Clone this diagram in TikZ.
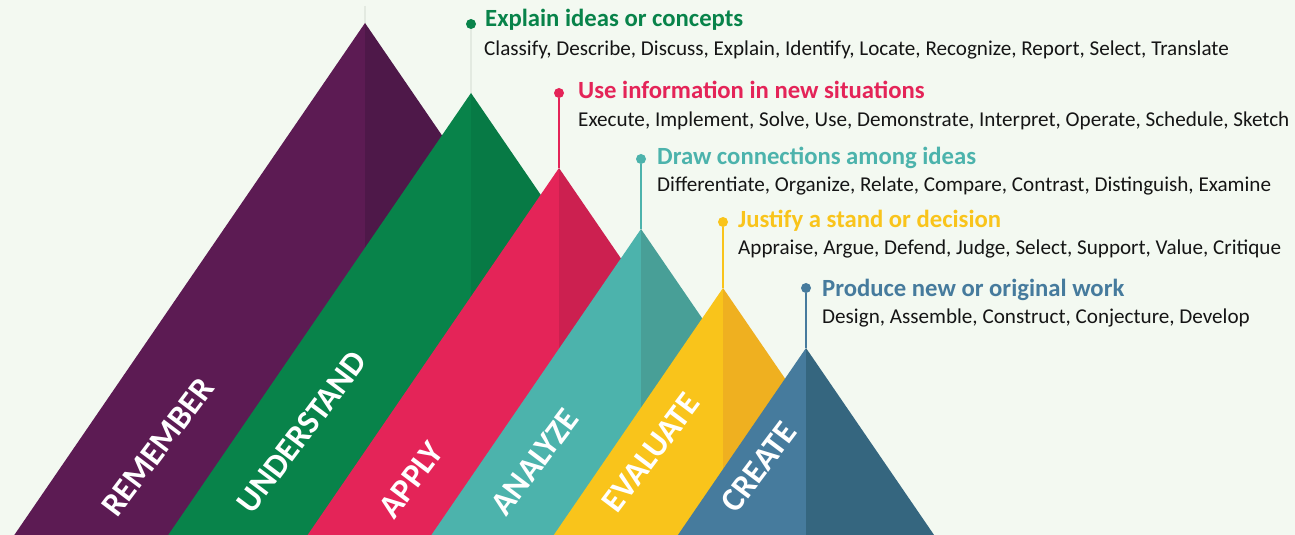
\documentclass[tikz,border=0pt]{standalone}
\usepackage{fontspec}
\setmainfont{Carlito}
\definecolor{bg}{HTML}{F3F9F1}
\definecolor{purL}{HTML}{5C1B53}
\definecolor{purR}{HTML}{4E1849}
\definecolor{grnL}{HTML}{08834A}
\definecolor{grnR}{HTML}{077A45}
\definecolor{redL}{HTML}{E42458}
\definecolor{redR}{HTML}{CC2050}
\definecolor{teaL}{HTML}{4CB3AC}
\definecolor{teaR}{HTML}{489F97}
\definecolor{yelL}{HTML}{F9C41B}
\definecolor{yelR}{HTML}{EFB020}
\definecolor{bluL}{HTML}{467B9D}
\definecolor{bluR}{HTML}{35667F}
\definecolor{faint}{HTML}{E3EAE1}
\definecolor{desc}{HTML}{151515}
\tikzset{
  title/.style={anchor=base west, inner sep=0pt, font=\fontsize{24.8}{28}\selectfont\bfseries},
  desctext/.style={anchor=base west, inner sep=0pt, font=\fontsize{21.2}{24}\selectfont, text=desc},
  dotmark/.style={circle, inner sep=0pt, minimum size=10bp},
  level/.style={anchor=center, inner sep=0pt, rotate=53, text=white, font=\fontsize{33.5}{36}\selectfont\bfseries},
  stem/.style={line width=2bp}
}
\newcommand{\mytri}[4]{% apex x, apex y, left color, right color
  \pgfmathsetmacro{\hw}{(535-#2)/1.46}
  \fill[#3] (#1,#2) -- (#1-\hw,535) -- (#1,535) -- cycle;
  \fill[#4] (#1,#2) -- (#1+\hw,535) -- (#1,535) -- cycle;
}
\begin{document}
\begin{tikzpicture}[x=1bp,y=-1bp]
\fill[bg] (0,0) rectangle (1295,535);
\useasboundingbox (0,0) rectangle (1295,535);

% coordinates of apexes
\coordinate (a1) at (365,23);
\coordinate (a2) at (471,93);
\coordinate (a3) at (559,168);
\coordinate (a4) at (641,229);
\coordinate (a5) at (723,288);
\coordinate (a6) at (806,348);
\coordinate (t1) at (365,6);

% dots
\node[dotmark, fill=grnL] (d2) at (471,24) {};
\node[dotmark, fill=redL] (d3) at (559,93) {};
\node[dotmark, fill=teaL] (d4) at (641,159) {};
\node[dotmark, fill=yelL] (d5) at (723,222) {};
\node[dotmark, fill=bluL] (d6) at (806,288) {};

% stems
\draw[faint, line width=1.2bp] (t1) -- (a1);
\draw[faint, line width=1.2bp] (d2) -- (a2);
\draw[stem, redL] (d3) -- (a3);
\draw[stem, teaL] (d4) -- (a4);
\draw[stem, yelL] (d5) -- (a5);
\draw[stem, bluL] (d6) -- (a6);

% triangles
\mytri{365}{23}{purL}{purR}
\mytri{471}{93}{grnL}{grnR}
\mytri{559}{168}{redL}{redR}
\mytri{641}{229}{teaL}{teaR}
\mytri{723}{288}{yelL}{yelR}
\mytri{806}{348}{bluL}{bluR}

% level labels
\node[level] (l1) at (158,447) {REMEMBER};
\node[level] (l2) at (302,432) {UNDERSTAND};
\node[level] (l3) at (411,480) {APPLY};
\node[level] (l4) at (535,462) {ANALYZE};
\node[level] (l5) at (651,453) {EVALUATE};
\node[level] (l6) at (759,467) {CREATE};

% texts
\node[title, text=grnL] (h2) at (485,27) {Explain ideas or concepts};
\node[desctext] (s2) at (484,56) {Classify, Describe, Discuss, Explain, Identify, Locate, Recognize, Report, Select, Translate};
\node[title, text=redL] (h3) at (578,99) {Use information in new situations};
\node[desctext] (s3) at (578,127) {Execute, Implement, Solve, Use, Demonstrate, Interpret, Operate, Schedule, Sketch};
\node[title, text=teaL] (h4) at (657,165) {Draw connections among ideas};
\node[desctext] (s4) at (657,192) {Differentiate, Organize, Relate, Compare, Contrast, Distinguish, Examine};
\node[title, text=yelL] (h5) at (738,228) {Justify a stand or decision};
\node[desctext] (s5) at (738,255) {Appraise, Argue, Defend, Judge, Select, Support, Value, Critique};
\node[title, text=bluL] (h6) at (822,297) {Produce new or original work};
\node[desctext] (s6) at (822,324) {Design, Assemble, Construct, Conjecture, Develop};
\end{tikzpicture}
\end{document}
